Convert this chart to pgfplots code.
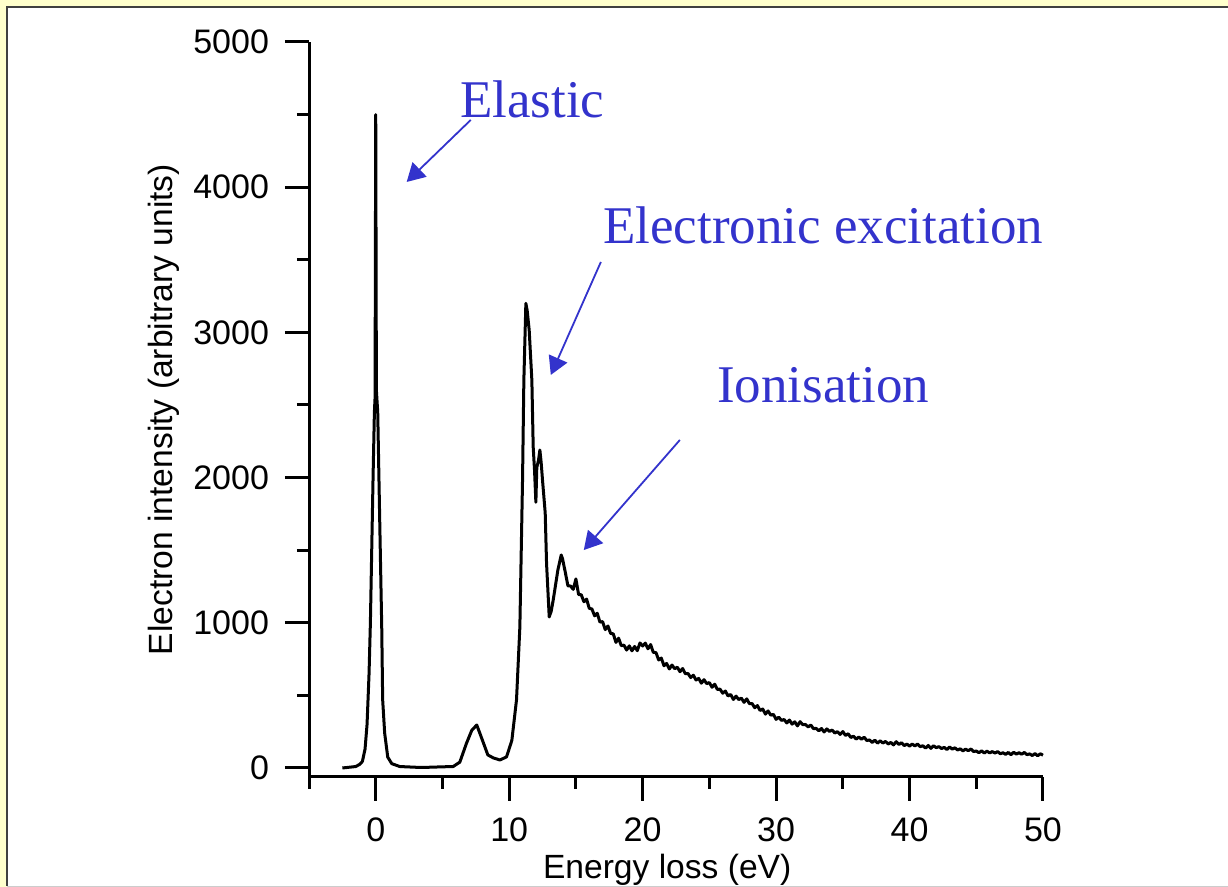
\documentclass[border=0pt]{standalone}
\usepackage{fontspec}
\setmainfont{Liberation Sans}
\newfontfamily\timesfont{Liberation Serif}
\usepackage{pgfplots}
\pgfplotsset{compat=1.18}
\usetikzlibrary{arrows.meta}
\definecolor{bgyellow}{HTML}{FFFFCC}
\definecolor{annblue}{HTML}{3333CC}

\begin{document}
\begin{tikzpicture}
% slide background and white panel
\fill[bgyellow] (0,0) rectangle (614pt,443.5pt);
\path[use as bounding box] (0,0) rectangle (614pt,443.5pt);
\fill[white] (3.5pt,0.5pt) rectangle (614pt,440pt);
\draw[black!75, line width=1pt] (3.5pt,0.5pt) -- (3.5pt,440pt) -- (614pt,440pt);
\draw[black!20, line width=0.6pt] (3.5pt,0.3pt) -- (614pt,0.3pt);

\begin{axis}[
  at={(154.5pt,55pt)}, anchor=south west,
  scale only axis, width=367pt, height=367.5pt,
  xmin=-5, xmax=50, ymin=-62, ymax=5000,
  axis x line*=bottom, axis y line*=left,
  axis line style={-, line width=1.5pt},
  every tick/.style={black, line width=1.5pt},
  every minor tick/.style={black, line width=1.5pt},
  tick align=outside,
  major tick length=12pt, minor tick length=6pt,
  xtick={0,10,...,50}, minor xtick={-5,5,...,45},
  ytick={0,1000,...,5000}, minor ytick={500,1500,...,4500},
  scaled y ticks=false,
  ticklabel style={font=\fontsize{17}{20}\selectfont},
  xticklabel style={yshift=-5pt},
  yticklabel style={xshift=-4.5pt},
  /pgf/number format/assume math mode=true,
  /pgf/number format/1000 sep={},
  xlabel={Energy loss (eV)},
  ylabel={Electron intensity (arbitrary units)},
  label style={font=\fontsize{16.8}{20}\selectfont},
  xlabel style={at={(axis description cs:0.488,-0.138)}, anchor=base},
  ylabel style={at={(axis description cs:-0.1866,0.5)}, anchor=base},
  clip=false,
]
\addplot[black, line width=1.5pt, line join=round] table {
-2.5 0
-2.0 5
-1.5 10
-1.2 25
-1.0 45
-0.8 130
-0.65 300
-0.5 650
-0.4 1000
-0.3 1500
-0.2 2000
-0.1 2450
-0.05 2550
0.0 4500
0.05 2600
0.15 2450
0.3 1700
0.45 970
0.52 470
0.67 240
0.9 75
1.2 30
1.8 10
3.0 5
4.0 5
5.0 8
5.8 10
6.3 40
6.8 170
7.2 260
7.57 296
7.9 215
8.4 90
8.8 70
9.3 55
9.8 76
10.2 190
10.4 350
10.55 470
10.8 970
11.0 1980
11.1 2670
11.25 3200
11.35 3150
11.5 3015
11.7 2670
11.8 2210
11.9 2050
12.0 1830
12.07 2070
12.2 2120
12.3 2190
12.4 2100
12.5 1980
12.7 1756
12.8 1410
13.0 1040
13.15 1080
13.3 1157
13.65 1364
13.9 1467
14.0 1440
14.2 1350
14.4 1255
14.6 1253
14.8 1230
15.0 1302
15.2 1195
15.4 1193
15.6 1145
15.8 1163
16.0 1100
16.2 1095
16.4 1048
16.6 1065
16.8 1005
17.0 1008
17.2 953
17.4 978
17.6 927
17.8 924
18.0 865
18.2 894
18.4 842
18.6 846
18.8 812
19.0 841
19.2 807
19.4 837
19.6 808
19.8 861
20.0 840
20.2 860
20.4 821
20.6 850
20.8 796
21.0 795
21.2 744
21.4 757
21.6 704
21.8 720
22.0 682
22.2 709
22.4 684
22.6 694
22.8 663
23.0 685
23.2 649
23.4 651
23.6 623
23.8 639
24.0 606
24.2 617
24.4 584
24.6 608
24.8 581
25.0 588
25.2 556
25.4 577
25.6 541
25.8 543
26.0 515
26.2 530
26.4 496
26.6 506
26.8 472
27.0 495
27.2 471
27.4 481
27.6 452
27.8 476
28.0 443
28.2 444
28.4 415
28.6 430
28.8 396
29.0 406
29.2 371
29.4 393
29.6 364
29.8 369
30.0 335
30.2 350
30.4 328
30.6 334
30.8 310
31.0 330
31.2 302
31.4 318
31.6 290
31.8 319
32.0 298
32.2 300
32.4 283
32.6 296
32.8 271
33.0 273
33.2 256
33.4 272
33.6 248
33.8 269
34.0 252
34.2 261
34.4 241
34.6 250
34.8 231
35.0 251
35.2 224
35.4 236
35.6 210
35.8 219
36.0 199
36.2 213
36.4 198
36.6 212
36.8 189
37.0 193
37.2 176
37.4 192
37.6 171
37.8 187
38.0 172
38.2 183
38.4 165
38.6 176
38.8 159
39.0 181
39.2 162
39.4 174
39.6 154
39.8 165
40.0 151
40.2 165
40.4 152
40.6 165
40.8 147
41.0 153
41.2 137
41.4 155
41.6 135
41.8 153
42.0 140
42.2 147
42.4 134
42.6 142
42.8 127
43.0 145
43.2 130
43.4 139
43.6 124
43.8 132
44.0 118
44.2 130
44.4 119
44.6 131
44.8 113
45.0 117
45.2 105
45.4 118
45.6 103
45.8 116
46.0 104
46.2 113
46.4 103
46.6 113
46.8 98
47.0 105
47.2 94
47.4 107
47.6 92
47.8 108
48.0 96
48.2 105
48.4 95
48.6 107
48.8 92
49.0 97
49.2 86
49.4 99
49.6 84
49.8 98
50.0 88
};

% annotations
\draw[annblue, line width=0.9pt, -{Triangle[length=9pt,width=10pt]}]
  (axis cs:7.12,4463) -- (axis cs:2.32,4036);
\draw[annblue, line width=0.9pt, -{Triangle[length=9pt,width=10pt]}]
  (axis cs:16.87,3485) -- (axis cs:13.12,2707);
\draw[annblue, line width=0.9pt, -{Triangle[length=9pt,width=10pt]}]
  (axis cs:22.79,2259) -- (axis cs:15.59,1501);
\node[annblue, anchor=base west, inner sep=0pt, font=\timesfont\fontsize{26.5}{30}\selectfont]
  at (axis cs:6.3,4483) {Elastic};
\node[annblue, anchor=base west, inner sep=0pt, font=\timesfont\fontsize{26.5}{30}\selectfont]
  at (axis cs:17.02,3609) {Electronic excitation};
\node[annblue, anchor=base west, inner sep=0pt, font=\timesfont\fontsize{26.5}{30}\selectfont]
  at (axis cs:25.56,2514) {Ionisation};
\end{axis}
\end{tikzpicture}
\end{document}
